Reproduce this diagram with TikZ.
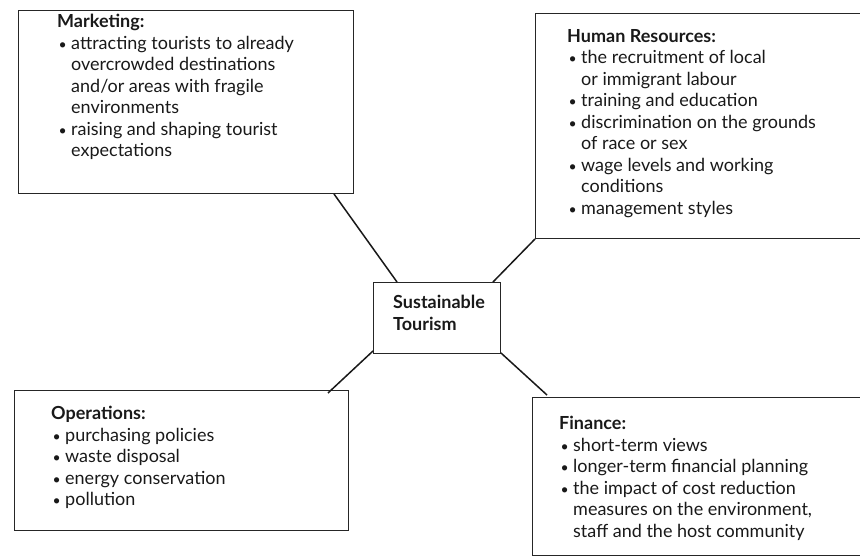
\documentclass[tikz,border=0pt]{standalone}
\usepackage{fontspec}
\setmainfont{Lato}
\usetikzlibrary{calc}
\newcommand\bul{\makebox[14pt][l]{\hspace{1.5pt}{\fontsize{14}{14}\selectfont•}}}
\newcommand\ind{\hspace*{14pt}}
\tikzset{
  box/.style={draw=black!85, line width=1pt, anchor=north west, inner sep=0pt},
  txt/.style={anchor=north west, align=left, inner sep=0pt, text=black!90,
    font=\fontsize{18}{21.5}\selectfont},
  link/.style={draw=black!90, line width=1.5pt},
}
\begin{document}
\begin{tikzpicture}[x=1pt,y=1pt]
\useasboundingbox (0,0) rectangle (860,-559);
% boxes
\node[box, minimum width=335, minimum height=183] (mkt) at (18,-10) {};
\node[box, minimum width=335, minimum height=225] (hr) at (535,-13) {};
\node[box, minimum width=334, minimum height=140] (ops) at (14,-390) {};
\node[box, minimum width=335, minimum height=158] (fin) at (532,-397) {};
\node[box, minimum width=127, minimum height=71] (st) at (373,-282) {};
% texts
\node[txt] (mktt) at (57,-14) {\textbf{Marketing:}\\
\bul attracting tourists to already\\
\ind overcrowded destinations\\
\ind and/or areas with fragile\\
\ind environments\\
\bul raising and shaping tourist\\
\ind expectations};
\node[txt] (hrt) at (567,-29) {\textbf{Human Resources:}\\
\bul the recruitment of local\\
\ind or immigrant labour\\
\bul training and education\\
\bul discrimination on the grounds\\
\ind of race or sex\\
\bul wage levels and working\\
\ind conditions\\
\bul management styles};
\node[txt] (opst) at (51,-406) {\textbf{Operations:}\\
\bul purchasing policies\\
\bul waste disposal\\
\bul energy conservation\\
\bul pollution};
\node[txt] (fint) at (559,-416) {\textbf{Finance:}\\
\bul short-term views\\
\bul longer-term financial planning\\
\bul the impact of cost reduction\\
\ind measures on the environment,\\
\ind staff and the host community};
\node[txt, font=\bfseries\fontsize{18}{21.5}\selectfont] (stt) at (393,-295) {Sustainable\\Tourism};
% connectors
\draw[link] ($(mkt.south east)+(-20,0)$) -- ($(st.north west)+(24,0)$);
\draw[link] ($(st.north east)+(-8,0)$) -- (hr.south west);
\draw[link] ($(st.south west)+(0,3)$) -- ($(ops.north east)+(-21,-3)$);
\draw[link] ($(st.south east)+(0,1)$) -- ($(fin.north west)+(15,2)$);
\end{tikzpicture}
\end{document}
